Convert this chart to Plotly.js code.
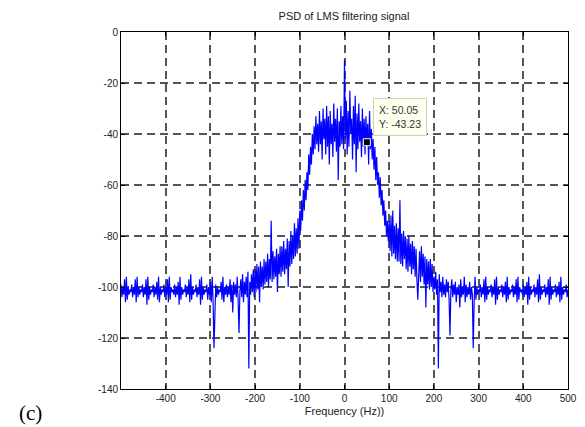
<!DOCTYPE html>
<html>
<head>
<meta charset="utf-8">
<script src="https://cdn.plot.ly/plotly-3.0.1.min.js"></script>
<style>html,body{margin:0;padding:0;background:#fff;}#chart{width:585px;height:427px;}</style>
</head>
<body>
<div id="chart"></div>
<script>
// Frequency bins: start and step (Hz)
const freqStart = -500;
const freqStep = 2;
// PSD values (dB), one per bin
const psdValues = [
  -99,-104,-100,-103,-97,-106,-96,-105,-100,-103,
  -101,-102,-99,-104,-100,-103,-97,-106,-96,-104,
  -100,-103,-101,-102,-99,-104,-100,-103,-97,-107,
  -96,-105,-100,-103,-101,-102,-99,-104,-100,-103,
  -98,-105,-96,-106,-100,-103,-101,-102,-99,-104,
  -100,-103,-97,-106,-96,-105,-100,-102,-101,-103,
  -99,-104,-100,-103,-98,-107,-96,-105,-100,-103,
  -101,-102,-99,-104,-100,-103,-97,-106,-95,-105,
  -100,-103,-101,-102,-99,-104,-100,-103,-97,-107,
  -96,-105,-100,-103,-101,-102,-99,-105,-100,-103,
  -98,-106,-96,-105,-124,-103,-99,-104,-100,-103,
  -101,-102,-98,-105,-96,-106,-100,-103,-99,-104,
  -100,-103,-97,-106,-99,-110,-98,-103,-99,-104,
  -96,-105,-118,-102,-97,-104,-95,-106,-98,-103,
  -96,-104,-94,-132,-98,-103,-95,-102,-93,-104,
  -93,-102,-91,-101,-92,-106,-90,-100,-92,-101,
  -89,-99,-90,-98,-87,-100,-89,-97,-74,-98,
  -86,-97,-88,-96,-85,-102,-87,-95,-84,-96,
  -84,-94,-82,-95,-85,-93,-81,-100,-82,-92,
  -78,-91,-80,-89,-75,-88,-77,-87,-73,-85,
  -70,-78,-66,-74,-62,-70,-58,-66,-55,-62,
  -48,-56,-45,-52,-40,-48,-37,-46,-33,-44,
  -36,-47,-31,-44,-35,-50,-30,-42,-34,-48,
  -29,-45,-33,-52,-31,-44,-36,-49,-28,-43,
  -34,-47,-30,-58,-35,-45,-29,-44,-33,-46,
  -11,-42,-27,-48,-31,-45,-23,-40,-34,-50,
  -29,-44,-25,-55,-32,-46,-28,-43,-35,-49,
  -30,-45,-34,-48,-33,-44,-36,-52,-31,-46,
  -38,-50,-42,-54,-45,-58,-49,-60,-55,-65,
  -57,-68,-62,-72,-66,-76,-70,-80,-74,-82,
  -74,-86,-72,-88,-70,-87,-76,-89,-75,-90,
  -77,-90,-66,-91,-79,-92,-78,-89,-80,-93,
  -81,-94,-80,-92,-83,-95,-82,-93,-84,-96,
  -85,-97,-105,-95,-86,-98,-84,-96,-87,-99,
  -88,-108,-89,-99,-90,-101,-89,-100,-91,-102,
  -96,-101,-94,-103,-97,-132,-95,-102,-98,-104,
  -96,-103,-99,-104,-97,-102,-98,-105,-119,-101,
  -97,-104,-99,-103,-98,-106,-100,-103,-99,-108,
  -97,-104,-100,-103,-96,-106,-99,-104,-100,-103,
  -98,-105,-100,-103,-124,-106,-96,-105,-100,-103,
  -101,-102,-99,-104,-100,-103,-97,-106,-96,-105,
  -100,-103,-101,-102,-99,-104,-100,-103,-97,-107,
  -96,-105,-100,-103,-101,-102,-99,-104,-100,-103,
  -98,-106,-96,-105,-100,-103,-101,-102,-99,-104,
  -100,-103,-97,-106,-96,-105,-100,-102,-101,-103,
  -99,-104,-100,-103,-98,-107,-96,-105,-100,-103,
  -101,-102,-99,-104,-100,-103,-97,-106,-95,-105,
  -100,-103,-101,-102,-99,-104,-100,-103,-97,-107,
  -96,-105,-100,-103,-101,-102,-99,-104,-100,-103,
  -98,-106,-96,-105,-100,-103,-101,-102,-99,-104,
  -101
];
const xTickVals = [-400,-300,-200,-100,0,100,200,300,400,500];
const yTickVals = [0,-20,-40,-60,-80,-100,-120,-140];
const tipX = 50.05;
const tipY = -43.23;

const freqs = psdValues.map((_, i) => freqStart + i * freqStep);

const traces = [
  {x: freqs, y: psdValues, type: 'scatter', mode: 'lines',
   line: {color: '#0000ff', width: 1.2}, hoverinfo: 'skip'},
  {x: [tipX], y: [tipY], type: 'scatter', mode: 'markers',
   marker: {color: '#000', size: 7, symbol: 'square', line: {color: '#fff', width: 1}}, hoverinfo: 'skip'}
];

const axisCommon = {
  showline: true, linecolor: '#000', linewidth: 1, mirror: 'ticks',
  ticks: 'inside', ticklen: 4, tickcolor: '#000',
  showgrid: true, gridcolor: '#555', gridwidth: 2, griddash: '8px,5px',
  zeroline: false,
  tickfont: {family: 'Liberation Sans, Arial, sans-serif', size: 10, color: '#222'}
};

const layout = {
  width: 585, height: 427,
  margin: {l: 121, r: 17, t: 32, b: 38},
  paper_bgcolor: '#fff', plot_bgcolor: '#fff',
  showlegend: false,
  title: {text: 'PSD of LMS filtering signal', x: 0.588, xanchor: 'center', y: 0.962, yanchor: 'middle',
          font: {family: 'Liberation Sans, Arial, sans-serif', size: 11, color: '#222'}},
  xaxis: Object.assign({}, axisCommon, {
    range: [-500, 500], tickvals: xTickVals, ticktext: xTickVals.map(String),
    title: {text: 'Frequency (Hz))', standoff: 4, font: {family: 'Liberation Sans, Arial, sans-serif', size: 11, color: '#222'}}
  }),
  yaxis: Object.assign({}, axisCommon, {
    range: [-140, 0], tickvals: yTickVals, ticktext: yTickVals.map(String)
  }),
  annotations: [
    {x: tipX, y: tipY, xref: 'x', yref: 'y', ax: 33, ay: -25,
     showarrow: true, arrowcolor: 'rgba(0,0,0,0)', arrowwidth: 0.1,
     text: 'X: 50.05<br>Y: -43.23', align: 'left',
     font: {family: 'Liberation Sans, Arial, sans-serif', size: 10.5, color: '#333'},
     bgcolor: '#fffff0', bordercolor: '#cfcfc0', borderwidth: 1, borderpad: 5},
    {x: 30, y: 413, xref: 'paper', yref: 'paper', text: '(c)', showarrow: false,
     font: {family: 'Liberation Serif, Times New Roman, serif', size: 21, color: '#000'}}
  ]
};
// Position "(c)" in pixel space via paper fractions
const plotW = 585 - 121 - 17, plotH = 427 - 32 - 38;
layout.annotations[1].x = (30 - 121) / plotW;
layout.annotations[1].y = (427 - 38 - 413) / plotH;
layout.annotations[1].xanchor = 'center';
layout.annotations[1].yanchor = 'middle';

Plotly.newPlot('chart', traces, layout, {staticPlot: true, displayModeBar: false});
</script>
</body>
</html>
